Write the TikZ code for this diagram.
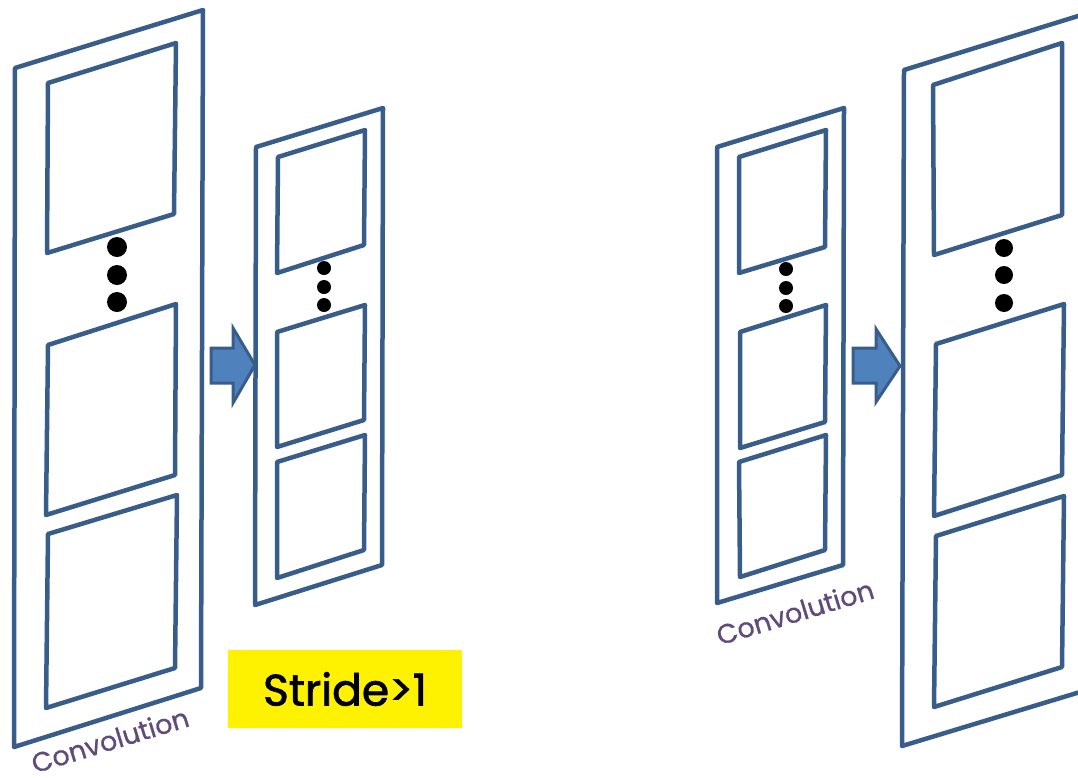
\documentclass[tikz,border=0pt]{standalone}
\usepackage{fontspec}
\setmainfont{Poppins}
\newfontfamily\stridefont[FakeBold=1.6]{Poppins}
\newfontfamily\convfont[FakeBold=0.8]{Poppins}
\usetikzlibrary{positioning}
\definecolor{frameblue}{HTML}{385D8A}
\definecolor{arrowblue}{HTML}{4F81BD}
\definecolor{labelpurple}{HTML}{604A7B}
\tikzset{
  panel/.style={draw=frameblue, line width=4.5pt, line join=round},
  blockarrow/.style={draw=frameblue, fill=arrowblue, line width=3pt},
  convlabel/.style={text=labelpurple, rotate=17, inner sep=0pt, font=\convfont\fontsize{27}{30}\selectfont},
  stridebox/.style={fill=yellow, minimum width=234pt, minimum height=78pt, inner sep=0pt, font=\stridefont\fontsize{44}{48}\selectfont}
}

\begin{document}
\begin{tikzpicture}[x=1pt, y=-1pt]
  \useasboundingbox (0,0) rectangle (1078,777);
  \clip (0,0) rectangle (1078,777);
  % left: big input panel
  \draw[panel] (15,68) -- (203,10) -- (201,688) -- (14,747) -- cycle;
  \draw[panel] (48,83) -- (176,43) -- (174,214) -- (47,253) -- cycle;
  \draw[panel] (48,345) -- (176,304) -- (175,475) -- (46,515) -- cycle;
  \draw[panel] (48,534) -- (177,495) -- (175,668) -- (46,708) -- cycle;
  % left: small output panel
  \draw[panel] (256,147) -- (383,108) -- (382,565) -- (255,605) -- cycle;
  \draw[panel] (278,157) -- (365,130) -- (364,245) -- (277,273) -- cycle;
  \draw[panel] (277,332) -- (365,305) -- (364,420) -- (277,447) -- cycle;
  \draw[panel] (277,462) -- (365,435) -- (364,550) -- (277,578) -- cycle;
  % right: small input panel
  \draw[panel] (717,147) -- (844,108) -- (843,565) -- (717,603) -- cycle;
  \draw[panel] (739,157) -- (826,130) -- (825,247) -- (739,273) -- cycle;
  \draw[panel] (740,332) -- (826,305) -- (825,422) -- (740,448) -- cycle;
  \draw[panel] (739,462) -- (826,435) -- (825,550) -- (740,577) -- cycle;
  % right: big output panel (cut at the edge)
  \draw[panel] (904,70) -- (1091,12) -- (1090,689) -- (902,746) -- cycle;
  \draw[panel] (933,85) -- (1062,43) -- (1062,215) -- (934,255) -- cycle;
  \draw[panel] (936,344) -- (1064,304) -- (1062,475) -- (934,516) -- cycle;
  \draw[panel] (936,536) -- (1064,496) -- (1062,667) -- (934,707) -- cycle;
  % dots
  \foreach \x/\y/\r in {117/247/10, 117/275/10, 117/302/10,
                        324/268/7, 324/287/7, 324/305/7,
                        786/269/7, 786/288/7, 786/306/7,
                        1004/248/9, 1004/275/9, 1004/303/9}
    \fill (\x,\y) circle (\r);
  % block arrows
  \draw[blockarrow] (211,348) -- (233,348) -- (233,328) -- (255,365)
    -- (233,403) -- (233,383) -- (211,383) -- cycle;
  \draw[blockarrow] (853,348) -- (876,348) -- (876,329) -- (900,366)
    -- (876,402) -- (876,383) -- (853,383) -- cycle;
  % labels
  \node[convlabel] (convL) at (110,740) {Convolution};
  \node[convlabel] (convR) at (795,612) {Convolution};
  \node[stridebox] (stride) at (345,689) {Stride>1};
\end{tikzpicture}
\end{document}
